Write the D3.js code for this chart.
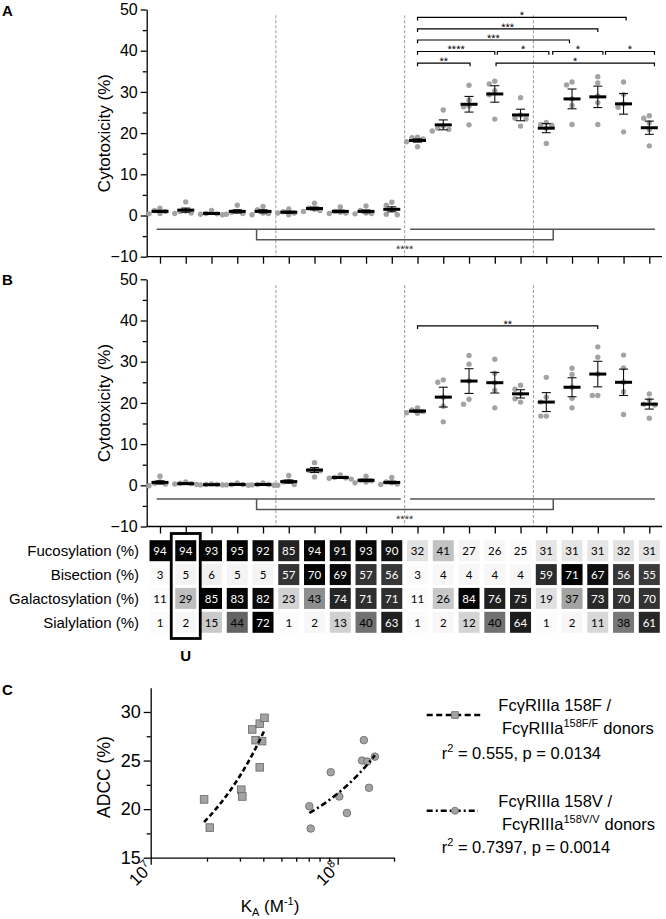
<!DOCTYPE html>
<html>
<head>
<meta charset="utf-8">
<script src="https://cdnjs.cloudflare.com/ajax/libs/d3/7.8.5/d3.min.js"></script>
<style>
body{margin:0;background:#fff;}
svg{font-family:"Liberation Sans",Arial,sans-serif;}
</style>
</head>
<body>
<script>
//cytotoxicity per glycoform, 20 columns, 5 donors each
var aPoints = [
  [1.8,1.2,0.5,0.4,1.0],[3.3,1.0,0.6,0.5,1.1],[1.2,0.4,0.3,0.2,0.5],[2.5,1.0,0.5,0.3,0.8],[2.2,1.4,0.5,0.2,0.6],
  [1.6,0.9,0.6,0.2,0.6],[3.0,1.8,1.5,1.0,1.2],[2.1,1.0,0.6,0.5,0.8],[2.3,1.2,0.6,0.4,0.5],[3.2,2.5,0.3,0.2,1.4],
  [19.0,18.9,18.6,17.9,16.7],[25.6,21.7,20.9,20.5,21.2],[31.6,28.0,26.6,26.4,22.0],[32.6,31.9,30.3,29.3,23.4],[28.6,24.4,23.6,23.4,21.7],
  [22.6,22.1,21.9,21.2,17.5],[32.4,31.7,28.3,26.7,22.1],[33.7,32.2,29.0,27.4,22.1],[32.4,29.4,27.1,26.3,20.3],[24.2,23.6,22.5,20.9,16.9]
];
var aMean = [1.0,1.3,0.5,1.0,1.0,0.8,1.7,1.0,1.0,1.5,18.2,22.0,27.0,29.5,24.4,21.2,28.3,28.8,27.1,21.3];
var aSem = [0.25,0.5,0.15,0.4,0.4,0.25,0.35,0.3,0.35,0.6,0.4,1.2,1.9,2.0,1.4,1.1,2.4,2.6,2.5,1.6];

var bPoints = [
  [2.2,0.8,0.5,0.3,-0.1],[0.8,0.5,0.3,0.2,0.4],[0.3,0.2,0.1,0.2,0.1],[0.6,0.2,0.1,0.2,0.0],[0.6,0.2,0.0,0.1,0.2],
  [2.4,1.0,0.8,0.2,0.0],[5.5,3.8,3.6,3.5,2.0],[2.5,1.8,1.7,1.5,1.9],[2.2,1.1,0.8,0.6,1.2],[1.9,0.8,0.3,0.2,0.6],
  [18.8,18.3,17.9,17.6,17.5],[25.6,25.0,21.4,19.2,15.4],[31.5,29.4,25.3,20.9,19.7],[30.6,27.2,24.9,23.1,18.8],[24.3,23.3,22.2,21.0,20.2],
  [26.2,21.4,20.2,16.8,16.8],[28.4,26.9,23.8,21.1,18.8],[33.6,31.1,27.0,21.8,21.8],[31.6,28.5,25.0,22.7,17.2],[22.2,20.7,19.7,19.5,16.3]
];
var bMean = [0.7,0.4,0.15,0.2,0.2,0.9,3.7,1.9,1.2,0.7,18.0,21.4,25.3,24.9,22.2,20.2,23.8,27.0,25.0,19.7];
var bSem = [0.4,0.1,0.05,0.1,0.1,0.4,0.6,0.2,0.3,0.3,0.25,2.4,3.0,2.5,1.0,2.3,2.3,3.1,3.2,1.2];

var yTicks = [-10,0,10,20,30,40,50];
var yMinor = [-5,5,15,25,35,45];
var separators = [4.5, 9.5, 14.5];

//significance brackets: from column, to column, level (%), label
var aBrackets = [
  [10, 18.1, 48.1, "*"],
  [10, 17.0, 45.3, "***"],
  [10, 15.9, 42.6, "***"],
  [10, 13.0, 39.8, "****"],
  [13.1, 15.1, 39.8, "*"],
  [15.25, 17.2, 39.8, "*"],
  [17.3, 19.2, 39.8, "*"],
  [10, 12.04, 37.0, "**"],
  [13.05, 19.2, 37.0, "*"]
];
var bBrackets = [[10, 17.0, 38.7, "**"]];

//group comparison under the points
var groupLines = [[-0.13, 9.35], [9.71, 19.22]];
var groupLevel = -3.35, groupDrop = -5.9, groupEnds = [3.75, 15.27], groupLabel = "****";

//glycan composition table
var glycoRows = ["Fucosylation (%)", "Bisection (%)", "Galactosylation (%)", "Sialylation (%)"];
var glycoValues = [
  [94,94,93,95,92,85,94,91,93,90,32,41,27,26,25,31,31,31,32,31],
  [3,5,6,5,5,57,70,69,57,56,3,4,4,4,4,59,71,67,56,55],
  [11,29,85,83,82,23,43,74,71,71,11,26,84,76,75,19,37,73,70,70],
  [1,2,15,44,72,1,2,13,40,63,1,2,12,40,64,1,2,11,38,61]
];

//panel C: affinity vs ADCC
var fK = [1.93e7,2.07e7,3.05e7,3.09e7,3.49e7,3.64e7,3.83e7,3.83e7,3.94e7,4.06e7];
var fAdcc = [21.0,18.1,22.0,21.3,28.2,27.1,28.8,24.3,27.0,29.4];
var vK = [7.05e7,7.17e7,9.18e7,1.02e8,1.12e8,1.38e8,1.35e8,1.44e8,1.58e8,1.47e8];
var vAdcc = [20.3,18.0,23.8,21.3,19.6,27.1,25.0,24.9,25.4,22.2];

var width = 666, height = 919;
var svg = d3.select("body").append("svg")
    .attr("width", width)
    .attr("height", height);

var x = d3.scaleLinear().domain([0, 19]).range([160, 649.3]);
var yA = d3.scaleLinear().domain([-10, 50]).range([256.7, 9.5]);
var yB = d3.scaleLinear().domain([-10, 50]).range([526.5, 279.3]);
var dotColor = "#a3a3a3";

function drawPanel(y, points, means, sems, brackets){
    var g = svg.append("g");

    //dashed separators between glycoform groups
    g.selectAll(".sep").data(separators).enter().append("line")
        .attr("x1", d => x(d)).attr("x2", d => x(d))
        .attr("y1", y(48.6)).attr("y2", y(-10))
        .attr("stroke", "#9a9a9a").attr("stroke-width", 1)
        .attr("stroke-dasharray", "3,2");

    //y axis
    var ya = g.append("g").attr("transform", "translate(146.7,0)")
        .call(d3.axisLeft(y).tickValues(yTicks).tickSize(6).tickSizeOuter(0).tickPadding(3));
    ya.selectAll("text").attr("font-size", 16).attr("fill", "#000");
    g.append("g").attr("transform", "translate(146.7,0)")
        .call(d3.axisLeft(y).tickValues(yMinor).tickSize(4).tickFormat(""))
        .select(".domain").remove();

    //x axis (ticks only)
    var xa = g.append("g").attr("transform", "translate(0," + y(-10) + ")")
        .call(d3.axisBottom(x).tickValues(d3.range(20)).tickSize(7).tickSizeOuter(0).tickFormat(""));
    xa.select(".domain").attr("d", "M146.7,0H662");
    g.selectAll(".domain, .tick line").attr("stroke-width", 1.3);

    g.append("text")
        .attr("transform", "translate(110," + y(20) + ") rotate(-90)")
        .attr("text-anchor", "middle").attr("font-size", 17)
        .text("Cytotoxicity (%)");

    //individual donors, spread sideways when they overlap
    points.forEach(function(col, i){
        var placed = [];
        col.slice().sort((a, b) => b - a).forEach(function(v){
            var py = y(v), off = 0;
            var tries = [0, -5.5, 5.5, -11, 11];
            for (var t = 0; t < tries.length; t++){
                var ok = placed.every(p => Math.hypot(p[0] - tries[t], p[1] - py) >= 5.2);
                if (ok){ off = tries[t]; break; }
            }
            placed.push([off, py]);
            g.append("circle").attr("cx", x(i) + off).attr("cy", py)
                .attr("r", 2.7).attr("fill", dotColor);
        });
    });

    //mean +/- SEM
    var ms = g.selectAll(".mean").data(means).enter().append("g");
    ms.append("line")
        .attr("x1", (d, i) => x(i)).attr("x2", (d, i) => x(i))
        .attr("y1", (d, i) => y(d - sems[i])).attr("y2", (d, i) => y(d + sems[i]))
        .attr("stroke", "#111").attr("stroke-width", 1.1);
    [-1, 1].forEach(function(s){
        ms.append("line")
            .attr("x1", (d, i) => x(i) - 4.5).attr("x2", (d, i) => x(i) + 4.5)
            .attr("y1", (d, i) => y(d + s * sems[i])).attr("y2", (d, i) => y(d + s * sems[i]))
            .attr("stroke", "#111").attr("stroke-width", 1.1);
    });
    ms.append("line")
        .attr("x1", (d, i) => x(i) - 8.5).attr("x2", (d, i) => x(i) + 8.5)
        .attr("y1", d => y(d)).attr("y2", d => y(d))
        .attr("stroke", "#000").attr("stroke-width", 3);

    //significance brackets above
    brackets.forEach(function(b){
        var x1 = x(b[0]), x2 = x(b[1]), ly = y(b[2]);
        g.append("path")
            .attr("d", "M" + x1 + "," + (ly + 3.2) + "V" + ly + "H" + x2 + "V" + (ly + 3.2))
            .attr("fill", "none").attr("stroke", "#000").attr("stroke-width", 1.2);
        g.append("text").attr("x", (x1 + x2) / 2).attr("y", ly + 1.8)
            .attr("text-anchor", "middle").attr("font-size", 11).attr("fill", "#000")
            .style("text-rendering", "geometricPrecision").text(b[3]);
    });

    //comparison of the two groups
    groupLines.forEach(function(l){
        g.append("line").attr("x1", x(l[0])).attr("x2", x(l[1]))
            .attr("y1", y(groupLevel)).attr("y2", y(groupLevel))
            .attr("stroke", "#555").attr("stroke-width", 1.5);
    });
    g.append("path")
        .attr("d", "M" + x(groupEnds[0]) + "," + y(groupLevel) + "V" + y(groupDrop) +
              "H" + x(groupEnds[1]) + "V" + y(groupLevel))
        .attr("fill", "none").attr("stroke", "#555").attr("stroke-width", 1.5);
    g.append("text").attr("x", x(9.5)).attr("y", y(-9.2))
        .attr("text-anchor", "middle").attr("font-size", 11).attr("fill", "#333")
        .style("text-rendering", "geometricPrecision").text(groupLabel);
}

drawPanel(yA, aPoints, aMean, aSem, aBrackets);
drawPanel(yB, bPoints, bMean, bSem, bBrackets);

//panel letters
[["A", 16], ["B", 285], ["C", 695]].forEach(function(p){
    svg.append("text").attr("x", 2).attr("y", p[1])
        .attr("font-size", 15).attr("font-weight", "bold").text(p[0]);
});

//glycan table
var rowY = d3.scaleLinear().domain([0, 3]).range([550.7, 622.3]);
var table = svg.append("g");
glycoValues.forEach(function(row, r){
    var ext = d3.extent(row);
    var shade = d3.scaleLinear().domain(ext).range(["#fbfbfb", "#000"]);
    var t = d3.scaleLinear().domain(ext).range([0, 1]);
    table.append("text").attr("x", 139).attr("y", rowY(r) + 5.3)
        .attr("text-anchor", "end").attr("font-size", 15).text(glycoRows[r]);
    var cells = table.selectAll(".c" + r).data(row).enter().append("g");
    cells.append("rect")
        .attr("x", (d, i) => x(i) - 10.5).attr("y", rowY(r) - 10.5)
        .attr("width", 21).attr("height", 21)
        .attr("fill", d => shade(d));
    cells.append("text")
        .attr("x", (d, i) => x(i)).attr("y", rowY(r) + 4.2)
        .attr("text-anchor", "middle")
        .attr("font-family", "Lato, 'Open Sans', sans-serif").attr("font-size", 11.5)
        .attr("fill", d => t(d) > 0.65 ? "#fff" : "#000")
        .text(d => d);
});
table.append("rect")
    .attr("x", x(1) - 14.5).attr("y", 533.5)
    .attr("width", 29).attr("height", 105)
    .attr("fill", "none").attr("stroke", "#000").attr("stroke-width", 2.8);
table.append("text").attr("x", x(1)).attr("y", 661)
    .attr("text-anchor", "middle").attr("font-size", 15).attr("font-weight", "bold").text("U");

//panel C
var xC = d3.scaleLog().domain([1e7, 2e8]).range([150.7, 394]);
var yC = d3.scaleLinear().domain([15, 32.5]).range([857.7, 687.7]);
var gc = svg.append("g");

var ycA = gc.append("g").attr("transform", "translate(150.7,0)")
    .call(d3.axisLeft(yC).tickValues([15, 20, 25, 30]).tickSize(7).tickSizeOuter(0).tickPadding(3));
ycA.selectAll("text").attr("font-size", 18);
gc.append("g").attr("transform", "translate(150.7,0)")
    .call(d3.axisLeft(yC).tickValues([17.5, 22.5, 27.5]).tickSize(4).tickFormat(""))
    .select(".domain").remove();
gc.append("g").attr("transform", "translate(0,857.7)")
    .call(d3.axisBottom(xC).tickValues([1e7, 1e8]).tickSize(7).tickSizeOuter(0).tickFormat(""));
gc.append("g").attr("transform", "translate(0,857.7)")
    .call(d3.axisBottom(xC).tickValues([2e7,3e7,4e7,5e7,6e7,7e7,8e7,9e7,2e8]).tickSize(4).tickFormat(""))
    .select(".domain").remove();
gc.selectAll(".domain, .tick line").attr("stroke-width", 1.3);

[[1e7, "7"], [1e8, "8"]].forEach(function(d){
    var tx = gc.append("text")
        .attr("transform", "translate(" + (xC(d[0]) + 3) + ",869) rotate(-45)")
        .attr("text-anchor", "end").attr("font-size", 17);
    tx.append("tspan").text("10");
    tx.append("tspan").attr("dy", -7).attr("font-size", 11).text(d[1]);
});

var xl = gc.append("text").attr("x", 270).attr("y", 912)
    .attr("text-anchor", "middle").attr("font-size", 17);
xl.append("tspan").text("K");
xl.append("tspan").attr("dy", 4).attr("font-size", 11).text("A");
xl.append("tspan").attr("dy", -4).text(" (M");
xl.append("tspan").attr("dy", -7).attr("font-size", 11).text("-1");
xl.append("tspan").attr("dy", 7).text(")");

gc.append("text")
    .attr("transform", "translate(110," + yC(23.3) + ") rotate(-90)")
    .attr("text-anchor", "middle").attr("font-size", 17.5).text("ADCC (%)");

function fit(xs, ys){
    var mx = d3.mean(xs), my = d3.mean(ys);
    var b = d3.sum(xs, (v, i) => (v - mx) * (ys[i] - my)) / d3.sum(xs, v => (v - mx) * (v - mx));
    return function(v){ return my + b * (v - mx); };
}
function fitLine(xs, ys, dash){
    var f = fit(xs, ys), lo = d3.min(xs), hi = d3.max(xs);
    var pts = d3.range(21).map(i => lo * Math.pow(hi / lo, i / 20)).map(v => [v, f(v)]);
    gc.append("path").datum(pts)
        .attr("d", d3.line().x(d => xC(d[0])).y(d => yC(d[1])))
        .attr("fill", "none").attr("stroke", "#000").attr("stroke-width", 2.6)
        .attr("stroke-dasharray", dash);
}

gc.selectAll(".sq").data(fK).enter().append("rect")
    .attr("x", d => xC(d) - 3.8).attr("y", (d, i) => yC(fAdcc[i]) - 3.8)
    .attr("width", 7.6).attr("height", 7.6)
    .attr("fill", dotColor).attr("stroke", "#666").attr("stroke-width", 0.8);
gc.selectAll(".ci").data(vK).enter().append("circle")
    .attr("cx", d => xC(d)).attr("cy", (d, i) => yC(vAdcc[i]))
    .attr("r", 3.8)
    .attr("fill", dotColor).attr("stroke", "#666").attr("stroke-width", 0.8);
fitLine(fK, fAdcc, "5,3");
fitLine(vK, vAdcc, "6,3,2,3");

//legend
var lg = svg.append("g").attr("font-size", 16.5);
lg.append("line").attr("x1", 426.7).attr("x2", 481.7).attr("y1", 715).attr("y2", 715)
    .attr("stroke", "#000").attr("stroke-width", 2.6).attr("stroke-dasharray", "6,3.5");
lg.append("rect").attr("x", 451.7).attr("y", 711.7).attr("width", 6.6).attr("height", 6.6)
    .attr("fill", dotColor).attr("stroke", "#666").attr("stroke-width", 0.8);
lg.append("line").attr("x1", 426.7).attr("x2", 478).attr("y1", 810.7).attr("y2", 810.7)
    .attr("stroke", "#000").attr("stroke-width", 2.6).attr("stroke-dasharray", "6,3,2,3");
lg.append("circle").attr("cx", 455).attr("cy", 810.7).attr("r", 3.5)
    .attr("fill", dotColor).attr("stroke", "#666").attr("stroke-width", 0.8);

function legendLines(y0, allele){
    lg.append("text").attr("x", 498.3).attr("y", y0).text("FcγRIIIa 158" + allele + " /");
    var t = lg.append("text").attr("x", 502).attr("y", y0 + 23);
    t.append("tspan").text("FcγRIIIa");
    t.append("tspan").attr("dy", -7).attr("font-size", 11).text("158" + allele + "/" + allele);
    t.append("tspan").attr("dy", 7).attr("dx", 5).text("donors");
}
function statLine(y0, txt){
    var t = lg.append("text").attr("x", 441.7).attr("y", y0);
    t.append("tspan").text("r");
    t.append("tspan").attr("dy", -7).attr("font-size", 11).text("2");
    t.append("tspan").attr("dy", 7).text(" = " + txt);
}
legendLines(711, "F");
statLine(759, "0.555, p = 0.0134");
legendLines(807, "V");
statLine(853, "0.7397, p = 0.0014");
</script>
</body>
</html>
